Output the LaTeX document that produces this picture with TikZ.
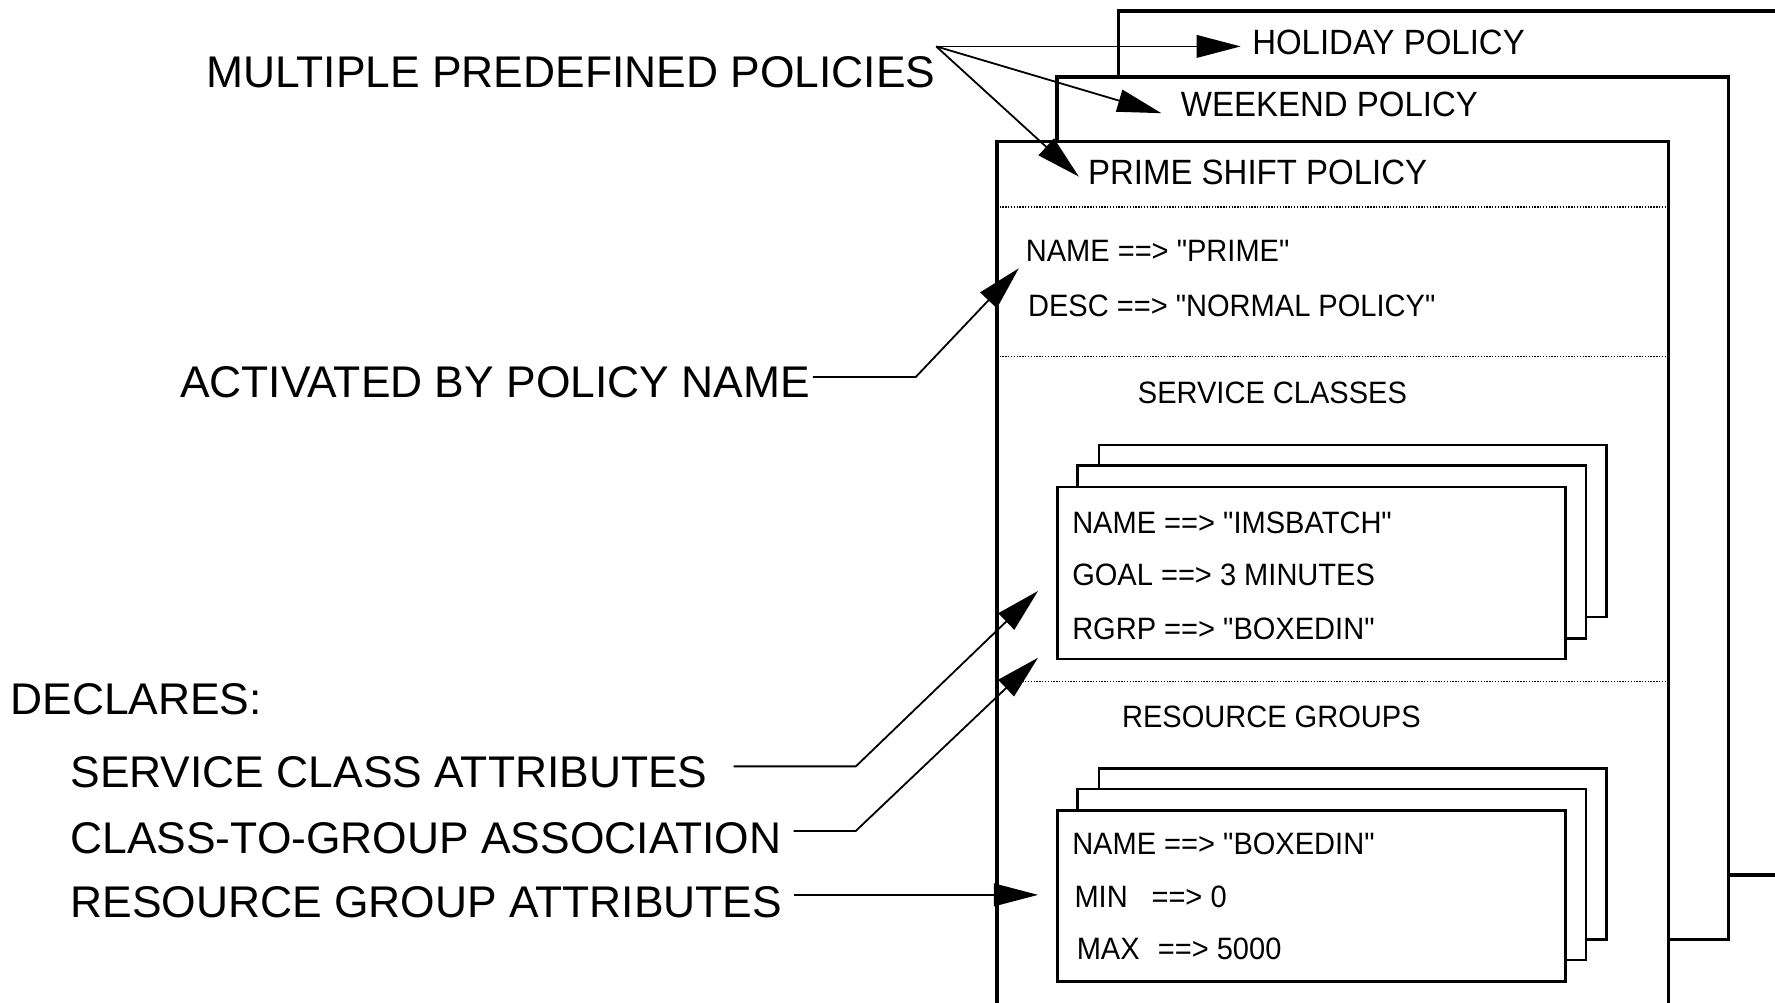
\documentclass[tikz,border=0pt]{standalone}
\usepackage{fontspec}
\setmainfont{Liberation Sans}
\newfontfamily\boxfont[FakeStretch=0.94]{Liberation Sans}
\usetikzlibrary{arrows.meta}
\begin{document}
\begin{tikzpicture}[x=1pt,y=-1pt,
  policy/.style={draw=black,fill=white,line width=3.3pt},
  card/.style={draw=black,fill=white,line width=2.2pt},
  divider/.style={line width=1.2pt,dash pattern=on 1.2pt off 1.3pt},
  link/.style={line width=1.6pt,-{Triangle[length=39pt,width=20pt]}},
  biglabel/.style={anchor=base west,inner sep=0pt,font=\fontsize{39.2}{44}\selectfont},
  ptitle/.style={anchor=base west,inner sep=0pt,font=\boxfont\fontsize{31}{36}\selectfont},
  field/.style={anchor=base west,inner sep=0pt,font=\boxfont\fontsize{27.3}{32}\selectfont},
]
\useasboundingbox (0,0) rectangle (1568,886);
\fill[white] (0,0) rectangle (1568,886);
\clip (0,0) rectangle (1568,886);

% three stacked policy frames
\draw[policy] (988,10) rectangle (1610,773);
\draw[policy] (934,68) rectangle (1527,830);
\draw[policy] (881,125) rectangle (1474,905);

% section dividers of the prime shift policy
\draw[divider] (883,183) -- (1472,183);
\draw[divider] (883,315) -- (1472,315);
\draw[divider] (883,602) -- (1472,602);

% service class cards
\draw[card] (971,393) rectangle (1419,545);
\draw[card] (952,411) rectangle (1401,564);
\draw[card] (934,430) rectangle (1383,582);

% resource group cards
\draw[card] (971,679) rectangle (1419,830);
\draw[card] (952,697) rectangle (1401,848);
\draw[card] (934,716) rectangle (1383,867);

% policy titles
\node[ptitle] (holiday) at (1106,48.5) {HOLIDAY POLICY};
\node[ptitle] (weekend) at (1043,103) {WEEKEND POLICY};
\node[ptitle] (prime)   at (961,163) {PRIME SHIFT POLICY};

% policy fields
\node[field] (pname) at (906,231) {NAME ==> "PRIME"};
\node[field] (pdesc) at (908,280) {DESC ==> "NORMAL POLICY"};
\node[field] (sclasses) at (1005,356.5) {SERVICE CLASSES};
\node[field] (scname) at (947,471.5) {NAME ==> "IMSBATCH"};
\node[field] (scgoal) at (947,517.5) {GOAL ==> 3 MINUTES};
\node[field] (scrgrp) at (947,564.5) {RGRP ==> "BOXEDIN"};
\node[field] (rgroups) at (991,642.5) {RESOURCE GROUPS};
\node[field] (rgname) at (947,754.5) {NAME ==> "BOXEDIN"};
\node[field] (rgmin) at (949,801.5) {MIN\hspace{21pt}==> 0};
\node[field] (rgmax) at (951,847.5) {MAX\hspace{16pt}==> 5000};

% callout labels
\node[biglabel] (multi) at (182,77) {MULTIPLE PREDEFINED POLICIES};
\node[biglabel] (activ) at (159,351) {ACTIVATED BY POLICY NAME};
\node[biglabel] (decl)  at (9,631.5) {DECLARES:};
\node[biglabel] (scattr) at (62,696) {SERVICE CLASS ATTRIBUTES};
\node[biglabel] (assoc)  at (62,754) {CLASS-TO-GROUP ASSOCIATION};
\node[biglabel] (rgattr) at (62,810.5) {RESOURCE GROUP ATTRIBUTES};

% connector anchor points
\coordinate (apex) at (827,41);
\coordinate (holtip) at (1096,41);
\coordinate (wktip) at (1026,100);
\coordinate (prtip) at (953,156);
\coordinate (actstart) at (718,333);
\coordinate (actbend) at (809,333);
\coordinate (acttip) at (900,237);
\coordinate (scstart) at (648,677);
\coordinate (scbend) at (756,677);
\coordinate (sctip) at (917,522);
\coordinate (asstart) at (701,734);
\coordinate (asbend) at (756,734);
\coordinate (astip) at (917,581);
\coordinate (rgstart) at (701,790.5);
\coordinate (rgtip) at (917,790.5);

% connectors
\draw[link] (apex) -- (holtip);
\draw[link] (apex) -- (wktip);
\draw[link] (apex) -- (prtip);
\draw[link] (actstart) -- (actbend) -- (acttip);
\draw[link] (scstart) -- (scbend) -- (sctip);
\draw[link] (asstart) -- (asbend) -- (astip);
\draw[link] (rgstart) -- (rgtip);
\end{tikzpicture}
\end{document}
